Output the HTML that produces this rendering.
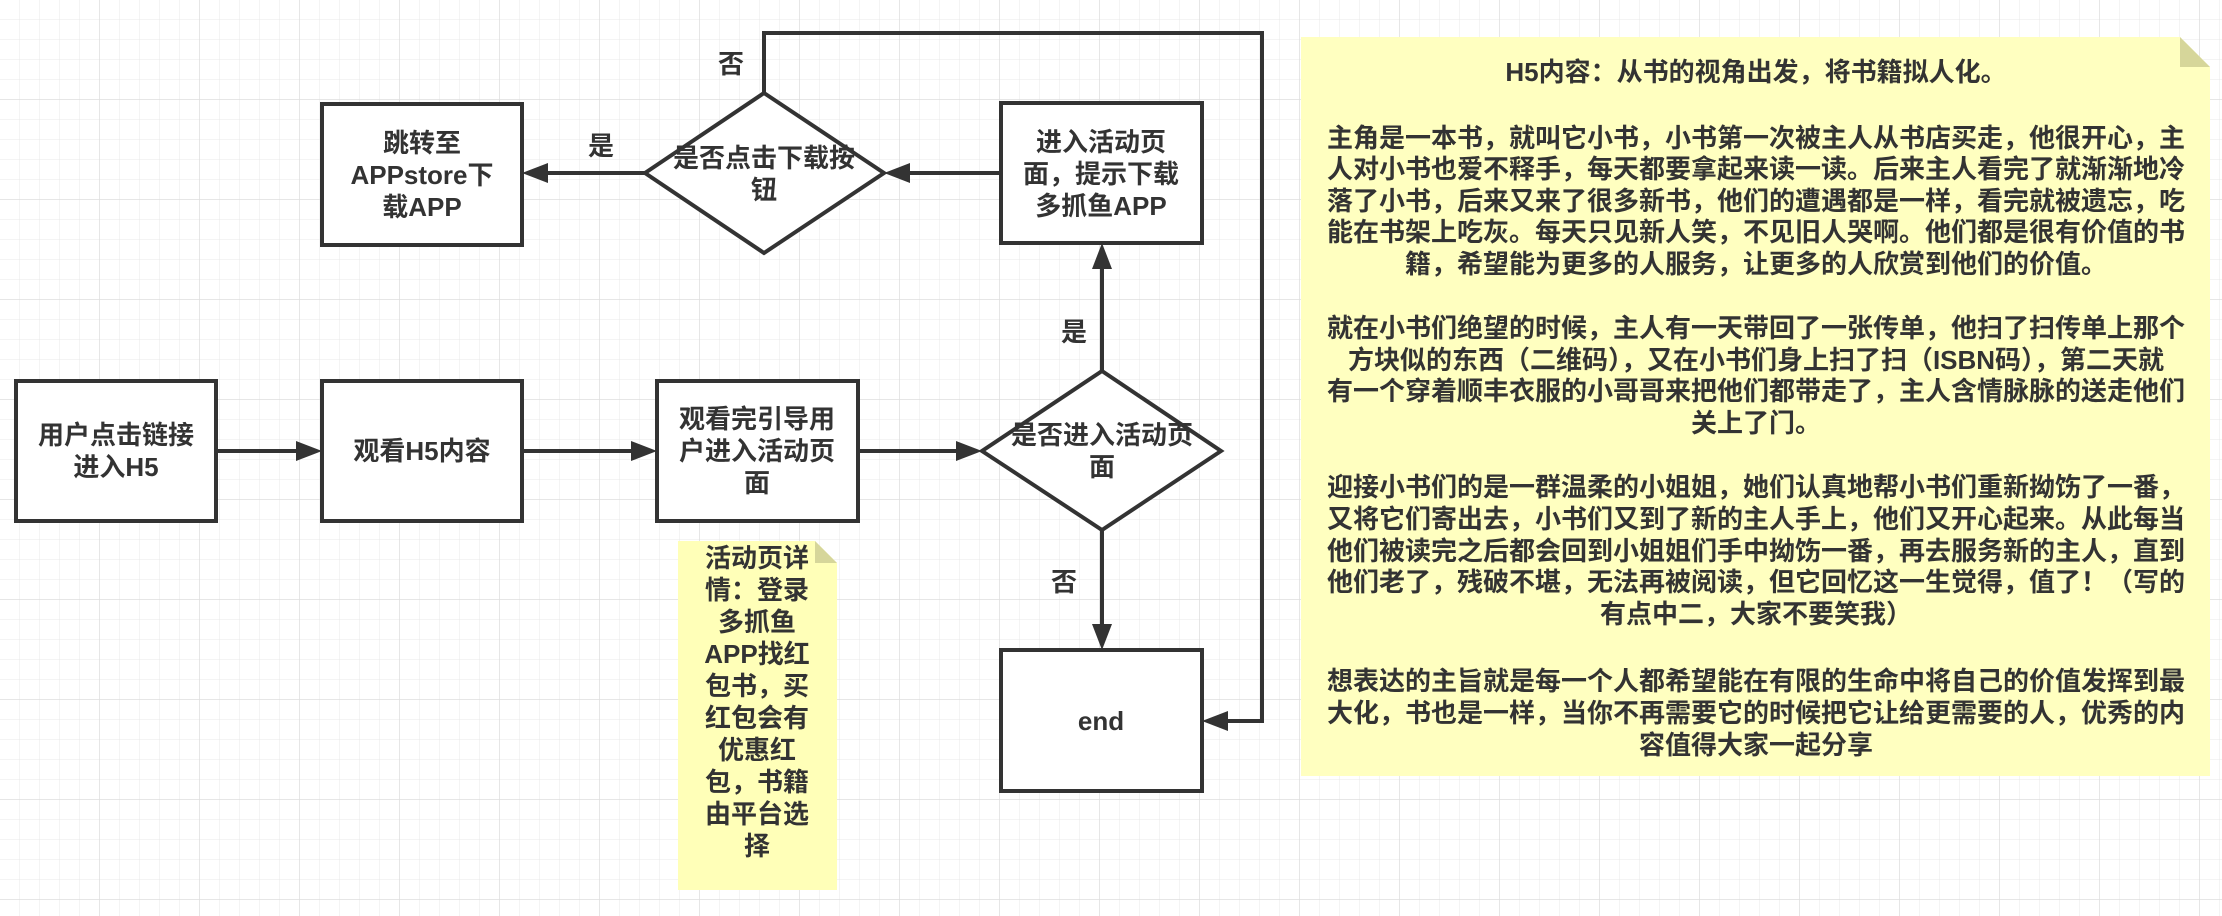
<!DOCTYPE html>
<html><head><meta charset="utf-8"><style>
html,body{margin:0;padding:0;background:#fff;}
svg{display:block;}
text{font-family:"Liberation Sans","Noto Sans CJK SC",sans-serif;font-weight:bold;font-size:26px;fill:#333;}
</style></head><body>
<svg width="2222" height="916" viewBox="0 0 2222 916" xmlns="http://www.w3.org/2000/svg">
<defs>
<pattern id="g" width="20" height="20" patternUnits="userSpaceOnUse"><path d="M20 0V20M0 20H20" stroke="#e9e9e9" stroke-width="1" fill="none"/></pattern>
<pattern id="G" width="100" height="100" patternUnits="userSpaceOnUse"><path d="M100 0V100M0 100H100" stroke="#dedede" stroke-width="1.5" fill="none"/></pattern>
</defs>
<rect width="2222" height="916" fill="#fff"/>
<rect width="2222" height="916" fill="url(#g)"/>
<rect width="2222" height="916" fill="url(#G)"/>
<g stroke="#333" stroke-width="4" fill="#fff">
<rect x="16" y="381" width="200" height="140"/>
<rect x="322" y="381" width="200" height="140"/>
<rect x="657" y="381" width="201" height="140"/>
<polygon points="1102,371 1221,451 1102,530 982,451"/>
<rect x="1001" y="103" width="201" height="140"/>
<polygon points="764,93 884,173 764,253 645,173"/>
<rect x="322" y="104" width="200" height="141"/>
<rect x="1001" y="650" width="201" height="141"/>
</g>
<g stroke="#333" stroke-width="4" fill="none">
<line x1="216" y1="451" x2="297" y2="451"/>
<line x1="522" y1="451" x2="632" y2="451"/>
<line x1="858" y1="451" x2="957" y2="451"/>
<line x1="1102" y1="371" x2="1102" y2="268"/>
<line x1="1102" y1="530" x2="1102" y2="625"/>
<line x1="1001" y1="173" x2="909" y2="173"/>
<line x1="645" y1="173" x2="547" y2="173"/>
<polyline points="764,93 764,33 1262,33 1262,721 1227,721"/>
</g>
<g fill="#333">
<polygon points="322,451 296,441 296,461"/>
<polygon points="657,451 631,441 631,461"/>
<polygon points="982,451 956,441 956,461"/>
<polygon points="1102,243 1092,269 1112,269"/>
<polygon points="1102,650 1092,624 1112,624"/>
<polygon points="884,173 910,163 910,183"/>
<polygon points="522,173 548,163 548,183"/>
<polygon points="1202,721 1228,711 1228,731"/>
</g>
<g text-anchor="middle" dominant-baseline="central">
<text x="116" y="435">用户点击链接</text><text x="116" y="467">进入H5</text>
<text x="422" y="451">观看H5内容</text>
<text x="757" y="419">观看完引导用</text><text x="757" y="451">户进入活动页</text><text x="757" y="483">面</text>
<text x="1102" y="435">是否进入活动页</text><text x="1102" y="467">面</text>
<text x="1101" y="142">进入活动页</text><text x="1101" y="174">面，提示下载</text><text x="1101" y="206">多抓鱼APP</text>
<text x="764" y="158">是否点击下载按</text><text x="764" y="190">钮</text>
<text x="422" y="143">跳转至</text><text x="422" y="175">APPstore下</text><text x="422" y="207">载APP</text>
<text x="1101" y="721">end</text>
<text x="731" y="64">否</text>
<text x="601" y="146">是</text>
<text x="1074" y="332">是</text>
<text x="1064" y="582">否</text>
</g>
<polygon points="678,541 815,541 837,563 837,890 678,890" fill="#ffffb8"/>
<polygon points="815,541 837,563 815,563" fill="#d6d69a"/>
<g text-anchor="middle" dominant-baseline="central">
<text x="757" y="558">活动页详</text><text x="757" y="590">情：登录</text><text x="757" y="622">多抓鱼</text><text x="757" y="654">APP找红</text><text x="757" y="686">包书，买</text><text x="757" y="718">红包会有</text><text x="757" y="750">优惠红</text><text x="757" y="782">包，书籍</text><text x="757" y="814">由平台选</text><text x="757" y="846">择</text>
</g>
<polygon points="1301,37 2180,37 2210,67 2210,776 1301,776" fill="#ffffc0"/>
<polygon points="2180,37 2210,67 2180,67" fill="#d6d69a"/>
<g text-anchor="middle" dominant-baseline="central">
<text x="1756" y="72">H5内容：从书的视角出发，将书籍拟人化。</text>
<text x="1756" y="138">主角是一本书，就叫它小书，小书第一次被主人从书店买走，他很开心，主</text>
<text x="1756" y="169">人对小书也爱不释手，每天都要拿起来读一读。后来主人看完了就渐渐地冷</text>
<text x="1756" y="201">落了小书，后来又来了很多新书，他们的遭遇都是一样，看完就被遗忘，吃</text>
<text x="1756" y="232">能在书架上吃灰。每天只见新人笑，不见旧人哭啊。他们都是很有价值的书</text>
<text x="1756" y="264">籍，希望能为更多的人服务，让更多的人欣赏到他们的价值。</text>
<text x="1756" y="328">就在小书们绝望的时候，主人有一天带回了一张传单，他扫了扫传单上那个</text>
<text x="1756" y="360">方块似的东西（二维码），又在小书们身上扫了扫（ISBN码），第二天就</text>
<text x="1756" y="391">有一个穿着顺丰衣服的小哥哥来把他们都带走了，主人含情脉脉的送走他们</text>
<text x="1756" y="423">关上了门。</text>
<text x="1756" y="487">迎接小书们的是一群温柔的小姐姐，她们认真地帮小书们重新拗饬了一番，</text>
<text x="1756" y="519">又将它们寄出去，小书们又到了新的主人手上，他们又开心起来。从此每当</text>
<text x="1756" y="551">他们被读完之后都会回到小姐姐们手中拗饬一番，再去服务新的主人，直到</text>
<text x="1756" y="582">他们老了，残破不堪，无法再被阅读，但它回忆这一生觉得，值了！（写的</text>
<text x="1756" y="614">有点中二，大家不要笑我）</text>
<text x="1756" y="681">想表达的主旨就是每一个人都希望能在有限的生命中将自己的价值发挥到最</text>
<text x="1756" y="713">大化，书也是一样，当你不再需要它的时候把它让给更需要的人，优秀的内</text>
<text x="1756" y="745">容值得大家一起分享</text>
</g>
</svg>
</body></html>
